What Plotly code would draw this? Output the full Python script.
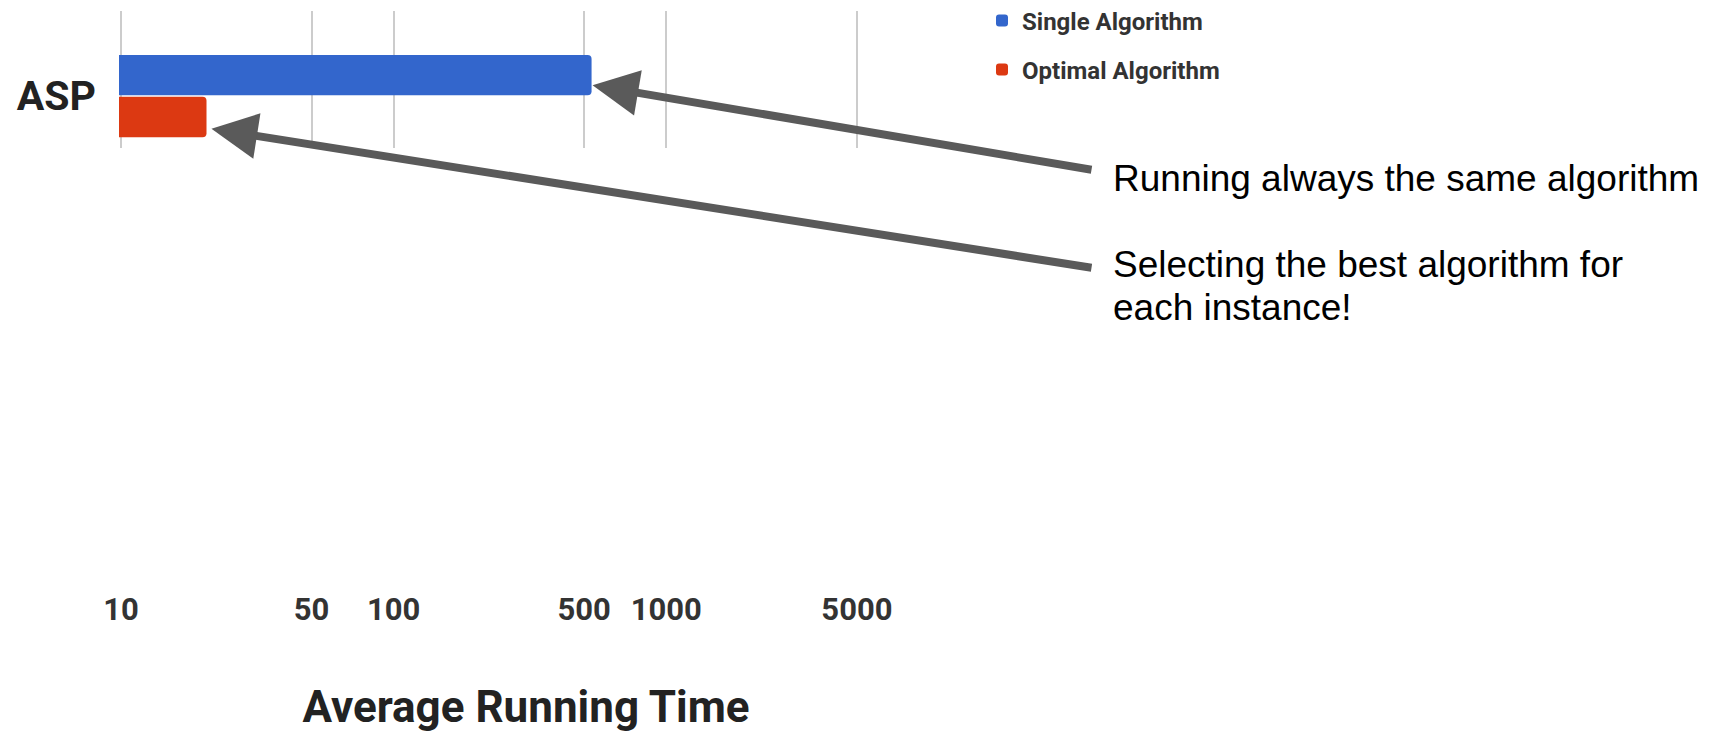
import numpy as np
import plotly.graph_objects as go

# ---- data ----
categories = ["ASP"]
single_values = [532]
optimal_values = [20.6]
single_name = "Single Algorithm"
optimal_name = "Optimal Algorithm"
tick_values = [10, 50, 100, 500, 1000, 5000]
tick_labels = ["10", "50", "100", "500", "1000", "5000"]
axis_title = "Average Running Time"
note_single = "Running always the same algorithm"
note_optimal_lines = ["Selecting the best algorithm for", "each instance!"]

# ---- layout constants (page px -> figure px; the page body adds an 8px offset) ----
OFF = 8
W, H = 1709 - OFF, 733 - OFF
L = 119 - OFF
T = 11 - OFF
PLOT_BOTTOM = 148 - OFF
PLOT_RIGHT = 933 - OFF
R = W - PLOT_RIGHT
B = H - PLOT_BOTTOM
PW = W - L - R
PH = H - T - B
PX_PER_DECADE = 272.7
X_RANGE = [0.993, 0.993 + PW / PX_PER_DECADE]


def pxx(page_x):
    return (page_x - OFF - L) / PW


def pxy(page_y):
    return (PLOT_BOTTOM - (page_y - OFF)) / PH


def fig_x_of(value):
    return L + (np.log10(value) - X_RANGE[0]) / (X_RANGE[1] - X_RANGE[0]) * PW


BLUE = "#3366CC"
RED = "#DC3912"
ARROW = "#5a5a5a"

fig = go.Figure()
fig.add_trace(go.Bar(y=categories, x=optimal_values, orientation="h", name=optimal_name,
                     marker=dict(color=RED, line=dict(width=0)), legend="legend2"))
fig.add_trace(go.Bar(y=categories, x=single_values, orientation="h", name=single_name,
                     marker=dict(color=BLUE, line=dict(width=0)), legend="legend"))

annotations = []
tail_x = 1093 - OFF
annotations.append(dict(x=np.log10(single_values[0]), y=pxy(85), xref="x", yref="paper",
                        ax=tail_x - fig_x_of(single_values[0]), ay=85,
                        axref="pixel", ayref="pixel", text="", showarrow=True,
                        arrowhead=2, arrowwidth=8, arrowsize=1.15, arrowcolor=ARROW, standoff=1))
annotations.append(dict(x=np.log10(optimal_values[0]), y=pxy(128), xref="x", yref="paper",
                        ax=tail_x - fig_x_of(optimal_values[0]), ay=140,
                        axref="pixel", ayref="pixel", text="", showarrow=True,
                        arrowhead=2, arrowwidth=8, arrowsize=1.15, arrowcolor=ARROW, standoff=5))
NOTE_FAMILY = "Liberation Sans, Arial, sans-serif"
annotations.append(dict(x=pxx(1111), y=pxy(178), xref="paper", yref="paper", text=note_single,
                        showarrow=False, xanchor="left", yanchor="middle",
                        font=dict(family=NOTE_FAMILY, size=37, color="#000000")))
# two-line note: base font size sets the line spacing, span sets the glyph size
two_lines = "<br>".join('<span style="font-size:37px">%s</span>' % s for s in note_optimal_lines)
annotations.append(dict(x=pxx(1111), y=pxy(286), xref="paper", yref="paper", text=two_lines,
                        showarrow=False, xanchor="left", yanchor="middle", align="left",
                        font=dict(family=NOTE_FAMILY, size=33, color="#000000")))

legend_font = dict(family="Roboto, sans-serif", size=24, color="#333333", weight="bold")

fig.update_layout(
    width=W, height=H,
    margin=dict(l=L, r=R, t=T, b=B, autoexpand=False),
    paper_bgcolor="white", plot_bgcolor="white",
    barmode="group", bargap=0.2, bargroupgap=0.04, barcornerradius=4,
    xaxis=dict(type="log", range=X_RANGE, tickvals=tick_values, ticktext=tick_labels,
               showgrid=True, gridcolor="#cccccc", gridwidth=1.5, zeroline=False,
               showline=False, ticks="", ticklabelstandoff=440,
               tickfont=dict(family="Roboto, sans-serif", size=31, color="#333333", weight="bold"),
               title=dict(text=axis_title, standoff=84,
                          font=dict(family="Roboto, sans-serif", size=44, color="#222222", weight="bold")),
               automargin=False, fixedrange=True),
    yaxis=dict(range=[-0.495, 0.81], showgrid=False, zeroline=False, showline=False, ticks="",
               ticklabelstandoff=22,
               tickfont=dict(family="Roboto, sans-serif", size=41, color="#222222", weight="bold"),
               automargin=False, fixedrange=True),
    legend=dict(x=pxx(982), y=pxy(21), xanchor="left", yanchor="middle", font=legend_font,
                bgcolor="rgba(0,0,0,0)"),
    legend2=dict(x=pxx(982), y=pxy(70), xanchor="left", yanchor="middle", font=legend_font,
                 bgcolor="rgba(0,0,0,0)"),
    annotations=annotations,
    showlegend=True,
)

fig.write_html("out.html")
